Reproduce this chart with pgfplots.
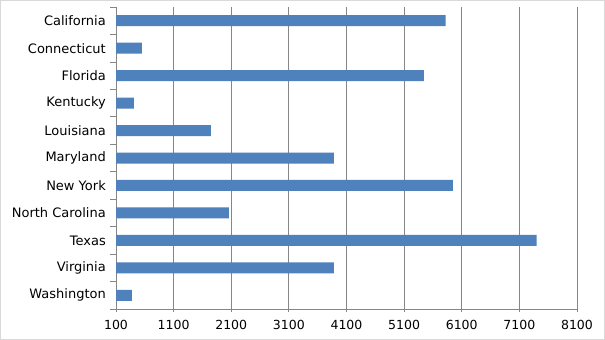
\documentclass[border=0pt]{standalone}
\usepackage{fontspec}
\setmainfont{DejaVu Sans}
\usepackage{pgfplots}
\pgfplotsset{compat=1.18}
\definecolor{barblue}{HTML}{4F81BD}
\definecolor{gridgray}{HTML}{868686}
\definecolor{bordergray}{HTML}{D9D9D9}
\begin{document}
\begin{tikzpicture}[font=\fontsize{13bp}{15bp}\selectfont]
\path[use as bounding box] (0,0) rectangle (605bp,340bp);
\fill[white] (0,0) rectangle (605bp,340bp);
\draw[bordergray, line width=1bp] (0.5bp,0.5bp) rectangle (604.5bp,339.5bp);
\begin{axis}[
  at={(116bp,31bp)}, anchor=south west,
  scale only axis, width=461bp, height=302bp,
  xbar, bar width=11bp,
  xmin=100, xmax=8100, xtick={100,1100,...,8100},
  ymin=-0.5, ymax=10.5, y dir=reverse,
  ytick={0,...,10},
  yticklabels={California,Connecticut,Florida,Kentucky,Louisiana,Maryland,New York,North Carolina,Texas,Virginia,Washington},
  minor ytick={-0.5,0.5,...,10.5},
  axis x line*=bottom, axis y line*=left,
  axis line style={gridgray, line width=0.75bp},
  xmajorgrids, major grid style={gridgray, line width=0.75bp},
  tick align=outside, major tick length=3bp, minor tick length=6bp,
  every tick/.style={gridgray, line width=0.75bp},
  major y tick style={draw=none},
  /pgf/number format/assume math mode=true,
  /pgf/number format/1000 sep={},
  xticklabel style={inner sep=0pt, yshift=-8bp, text=black, font=\fontsize{12.5bp}{15bp}\selectfont},
  yticklabel style={inner sep=0pt, xshift=-7bp, text=black, font=\fontsize{13bp}{15bp}\selectfont},
]
\addplot[fill=barblue, draw=none] coordinates {
  (5822,0) (551,1) (5441,2) (412,3) (1747,4) (3880,5)
  (5944,6) (2059,7) (7400,8) (3880,9) (377,10)
};
\end{axis}
\end{tikzpicture}
\end{document}
